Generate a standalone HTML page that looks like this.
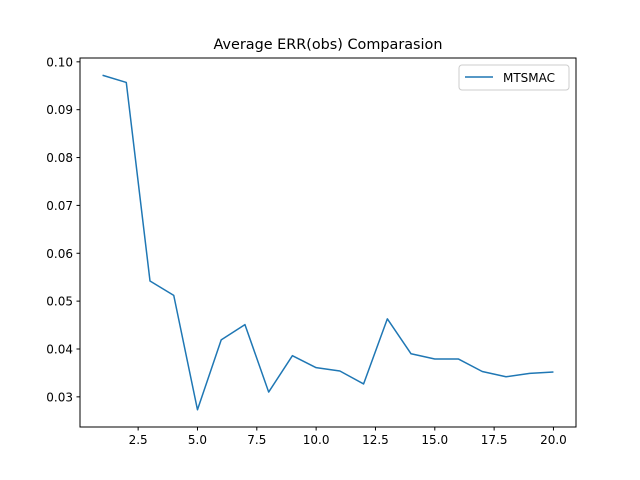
<!DOCTYPE html>
<html><head><meta charset="utf-8"><style>
body{margin:0;background:#fff}
svg{display:block;font-family:"DejaVu Sans","Liberation Sans",sans-serif}
</style></head><body>
<svg id="chart" width="640" height="480">
<rect width="640" height="480" fill="#fff"/>
<text x="328" y="49" text-anchor="middle" font-size="14.4">Average ERR(obs) Comparasion</text>
<g id="axes"></g>
<rect x="80" y="58" width="496" height="369" fill="none" stroke="#000" stroke-width="1"/>
<g>
<rect x="459" y="65" width="110" height="25" rx="3" fill="#fff" stroke="#ccc"/>
<line x1="465" y1="77" x2="493" y2="77" stroke="#1f77b4" stroke-width="1.5"/>
<text x="503" y="82" font-size="12">MTSMAC</text>
</g>
</svg>
<script>
const xs=[1,2,3,4,5,6,7,8,9,10,11,12,13,14,15,16,17,18,19,20];
const ys=[0.0972,0.0957,0.0542,0.0512,0.0273,0.0419,0.0451,0.0310,0.0386,0.0361,0.0354,0.0327,0.0463,0.0390,0.0379,0.0379,0.0353,0.0342,0.0349,0.0352];
const xTicks=[2.5,5.0,7.5,10.0,12.5,15.0,17.5,20.0];
const yTicks=[0.03,0.04,0.05,0.06,0.07,0.08,0.09,0.10];
const X0=80,X1=576,Y0=427,Y1=58,xmin=0.05,xmax=20.95,ymin=0.0237,ymax=0.1008;
const sx=v=>X0+(v-xmin)/(xmax-xmin)*(X1-X0);
const sy=v=>Y0-(v-ymin)/(ymax-ymin)*(Y0-Y1);
const NS="http://www.w3.org/2000/svg";
const g=document.getElementById('axes');
function mk(t,a){const e=document.createElementNS(NS,t);for(const k in a)e.setAttribute(k,a[k]);g.appendChild(e);return e;}
xTicks.forEach(t=>{
 const l=mk('line',{x1:sx(t),x2:sx(t),y1:Y0,y2:Y0+3.5,stroke:'#000'});
 
 
 const tx=mk('text',{x:sx(t),y:Y0+17,'text-anchor':'middle','font-size':12});
 tx.textContent=t.toFixed(1);
 
 
});
yTicks.forEach(t=>{
 const l=mk('line',{x1:X0-3.5,x2:X0,y1:sy(t),y2:sy(t),stroke:'#000'});
 
 
 const tx=mk('text',{x:X0-7,y:sy(t)+4.5,'text-anchor':'end','font-size':12});
 tx.textContent=t.toFixed(2);
 
 
});
const p=mk('polyline',{points:xs.map((x,i)=>sx(x)+','+sy(ys[i])).join(' '),fill:'none',stroke:'#1f77b4','stroke-width':1.5,'stroke-linejoin':'round'});


</script>
</body></html>
